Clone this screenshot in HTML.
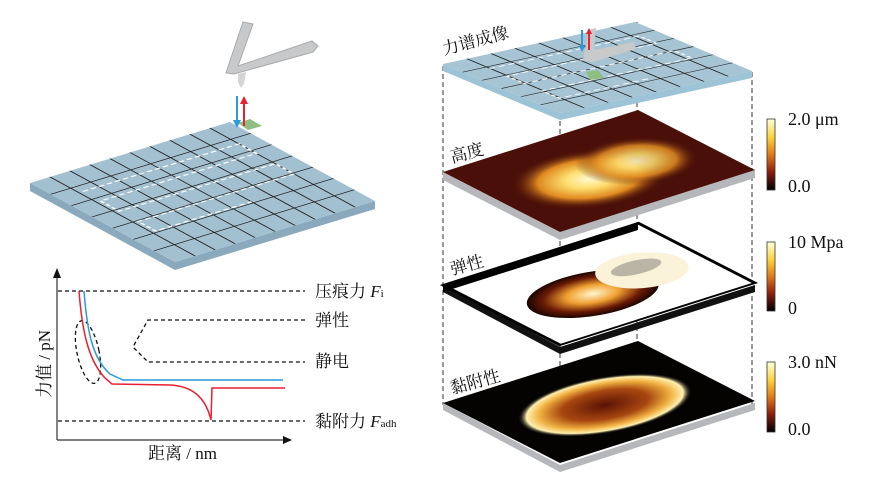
<!DOCTYPE html>
<html><head><meta charset="utf-8"><style>
html,body{margin:0;padding:0;background:#fff;}
svg{display:block;}
text{font-family:"Liberation Serif","Noto Serif CJK SC",serif;fill:#111;}
.cj{font-family:"Liberation Serif","Noto Serif CJK SC",serif;}
</style></head><body>
<svg width="870" height="492" viewBox="0 0 870 492" xmlns="http://www.w3.org/2000/svg">
<defs>
<radialGradient id="hg" cx="0.5" cy="0.5" r="0.5"><stop offset="0" stop-color="#fffad0"/><stop offset="0.3" stop-color="#fde070"/><stop offset="0.65" stop-color="#e08a20"/><stop offset="1" stop-color="#4a0f08" stop-opacity="0"/></radialGradient>
<radialGradient id="eg" cx="0.5" cy="0.5" r="0.5"><stop offset="0" stop-color="#fff6d0"/><stop offset="0.4" stop-color="#f0a030"/><stop offset="0.75" stop-color="#6a1a05"/><stop offset="1" stop-color="#1a0500"/></radialGradient>
<radialGradient id="ag" cx="0.5" cy="0.5" r="0.5"><stop offset="0" stop-color="#5a1205"/><stop offset="0.5" stop-color="#a84810"/><stop offset="0.75" stop-color="#f0b040"/><stop offset="0.9" stop-color="#fff0b0"/><stop offset="1" stop-color="#000" stop-opacity="0"/></radialGradient>
<linearGradient id="cb" x1="0" y1="0" x2="0" y2="1"><stop offset="0" stop-color="#ffffe0"/><stop offset="0.25" stop-color="#fcd440"/><stop offset="0.5" stop-color="#e07a18"/><stop offset="0.75" stop-color="#8a1e10"/><stop offset="1" stop-color="#000"/></linearGradient>
</defs>

<!-- LEFT PLATE -->
<polygon points="30,183 175,262 375,201 375,209 175,270 30,191" fill="#8aa9bc"/>
<g transform="matrix(200,-61,145,79,30,183)">
<rect x="0" y="0" width="1" height="1" fill="#a3c0d1"/>
<path d="M0.1 0V1M0.2 0V1M0.3 0V1M0.4 0V1M0.5 0V1M0.6 0V1M0.7 0V1M0.8 0V1M0.9 0V1M0 0.143H1M0 0.286H1M0 0.429H1M0 0.571H1M0 0.714H1M0 0.857H1" stroke="#222" stroke-width="0.006" fill="none"/>
<path d="M0.12 0.2 L0.9 0.2 L0.9 0.32 L0.12 0.32 L0.12 0.45 L0.9 0.45 L0.9 0.58 L0.12 0.58 L0.12 0.7 L0.6 0.7" fill="none" stroke="#fff" stroke-width="0.01" stroke-dasharray="0.025 0.015"/>
</g>
<polygon points="238,123 250,119 262,126 248,130" fill="#8fbf80"/>
<!-- cantilever -->
<path d="M243,22 L253,24 L238,66 L312,41 L318,46 L313,52 L234,74 L226,73 Z" fill="#c8c9cb" stroke="#aaa" stroke-width="1"/>
<path d="M238,74 L246,72 L244,84 L241,88 L238,82 Z" fill="#d4d5d7"/>
<line x1="237" y1="96" x2="237" y2="122" stroke="#2a9ad8" stroke-width="2"/><polygon points="233,120 241,120 237,128" fill="#2a9ad8"/>
<line x1="244" y1="126" x2="244" y2="102" stroke="#e82030" stroke-width="2"/><polygon points="240,104 248,104 244,96" fill="#e82030"/>

<!-- CHART -->
<line x1="57" y1="440" x2="57" y2="276" stroke="#333" stroke-width="1.2"/><polygon points="53,278 61,278 57,268" fill="#111"/>
<line x1="57" y1="440" x2="285" y2="440" stroke="#333" stroke-width="1.2"/><polygon points="283,436 283,444 292,440" fill="#111"/>
<g stroke="#111" stroke-width="1.3" stroke-dasharray="4 3" fill="none">
<line x1="58" y1="291" x2="305" y2="291"/>
<path d="M305 320 L148 320 L133 347 L148 362 L305 362"/>
<line x1="58" y1="421" x2="305" y2="421"/>
<ellipse cx="88" cy="352" rx="11" ry="32" transform="rotate(-12 88 352)"/>
</g>
<path d="M79 291 C82 330 88 360 105 378 L112 384 L170 385 C190 386 205 395 211 420 L212 388 L285 388" fill="none" stroke="#e82030" stroke-width="1.5"/>
<path d="M84 291 C87 330 92 358 110 374 L123 380 L283 380" fill="none" stroke="#2a9ad8" stroke-width="1.5"/>
<text x="315" y="297" font-size="17" class="cj">压痕力 <tspan font-style="italic">F</tspan><tspan font-size="11">i</tspan></text>
<text x="315" y="326" font-size="17" class="cj">弹性</text>
<text x="315" y="367" font-size="17" class="cj">静电</text>
<text x="315" y="427" font-size="17" class="cj">黏附力 <tspan font-style="italic">F</tspan><tspan font-size="11">adh</tspan></text>
<text x="148" y="459" font-size="17" class="cj">距离 / nm</text>
<text transform="translate(50,398) rotate(-90)" font-size="17" class="cj">力值 / pN</text>

<!-- RIGHT: dashed verticals -->
<g stroke="#333" stroke-width="1" stroke-dasharray="5 3">
<line x1="443" y1="66" x2="443" y2="405"/>
<line x1="752" y1="72" x2="752" y2="405"/>
<line x1="560" y1="113" x2="560" y2="465"/>
<line x1="637" y1="22" x2="637" y2="342"/>
</g>

<!-- plate 1 -->
<polygon points="443,64 560,113 752,71 752,78 560,120 443,71" fill="#9cc3d6"/>
<g transform="matrix(192,-42,117,49,443,64)">
<rect width="1" height="1" fill="#a6c4d4"/>
<path d="M0.125 0V1M0.25 0V1M0.375 0V1M0.5 0V1M0.625 0V1M0.75 0V1M0.875 0V1M0 0.167H1M0 0.333H1M0 0.5H1M0 0.667H1M0 0.833H1" stroke="#222" stroke-width="0.008" fill="none"/>
<path d="M0.12 0.2 L0.9 0.2 L0.9 0.35 L0.12 0.35 L0.12 0.5 L0.9 0.5 L0.9 0.65 L0.12 0.65 L0.12 0.8 L0.6 0.8" fill="none" stroke="#fff" stroke-width="0.012" stroke-dasharray="0.03 0.02"/>
</g>
<path d="M588 30 L596 28 L594 50 L634 42 L636 49 L592 62 L583 60 L585 50 Z" fill="#c8c9cb"/>
<polygon points="586,72 598,70 604,78 590,80" fill="#8fbf80"/>
<line x1="582" y1="30" x2="582" y2="48" stroke="#2a9ad8" stroke-width="2"/><polygon points="579,46 585,46 582,52" fill="#2a9ad8"/>
<line x1="589" y1="50" x2="589" y2="32" stroke="#e82030" stroke-width="2"/><polygon points="586,34 592,34 589,28" fill="#e82030"/>
<text transform="translate(444,55) rotate(-15)" font-size="17" class="cj">力谱成像</text>

<!-- plate 2 height -->
<polygon points="443,172 560,232 755,170 755,178 560,240 443,180" fill="#b5b7ba"/>
<g transform="matrix(195,-62,117,60,443,172)">
<rect width="1" height="1" fill="#4a0f08"/>
<ellipse cx="0.42" cy="0.55" rx="0.34" ry="0.36" fill="url(#hg)"/>
<ellipse cx="0.68" cy="0.52" rx="0.26" ry="0.3" fill="url(#hg)" opacity="0.85"/>
</g>
<text transform="translate(452,163) rotate(-15)" font-size="17" class="cj">高度</text>

<!-- plate 3 elastic -->
<polygon points="443,285 560,347 755,285 755,292 560,354 443,292" fill="#111"/>
<g transform="matrix(195,-62,117,60,443,285)">
<rect width="1" height="1" fill="#fff" stroke="#000" stroke-width="0.02"/>
<ellipse cx="0.42" cy="0.58" rx="0.3" ry="0.26" fill="url(#eg)"/>
<ellipse cx="0.72" cy="0.5" rx="0.2" ry="0.22" fill="#fbf2da"/>
<ellipse cx="0.72" cy="0.45" rx="0.12" ry="0.08" fill="#444" opacity="0.35"/>
</g>
<polygon points="443,285 638,223 638,230 443,292" fill="#000"/>
<text transform="translate(452,275) rotate(-15)" font-size="17" class="cj">弹性</text>

<!-- plate 4 adhesion -->
<polygon points="443,403 560,465 755,403 755,410 560,472 443,410" fill="#b5b7ba"/>
<g transform="matrix(195,-62,117,60,443,403)">
<rect width="1" height="1" fill="#050302"/>
<ellipse cx="0.5" cy="0.55" rx="0.4" ry="0.33" fill="url(#ag)"/>
</g>
<text transform="translate(452,394) rotate(-15)" font-size="17" class="cj">黏附性</text>

<!-- colorbars -->
<g font-size="18">
<rect x="767" y="119" width="8" height="71" fill="url(#cb)" stroke="#333" stroke-width="0.8"/>
<text x="788" y="125">2.0 μm</text><text x="788" y="192">0.0</text>
<rect x="767" y="242" width="8" height="69" fill="url(#cb)" stroke="#333" stroke-width="0.8"/>
<text x="788" y="248">10  Mpa</text><text x="788" y="314">0</text>
<rect x="767" y="362" width="8" height="70" fill="url(#cb)" stroke="#333" stroke-width="0.8"/>
<text x="788" y="368">3.0  nN</text><text x="788" y="435">0.0</text>
</g>
</svg>
</body></html>
